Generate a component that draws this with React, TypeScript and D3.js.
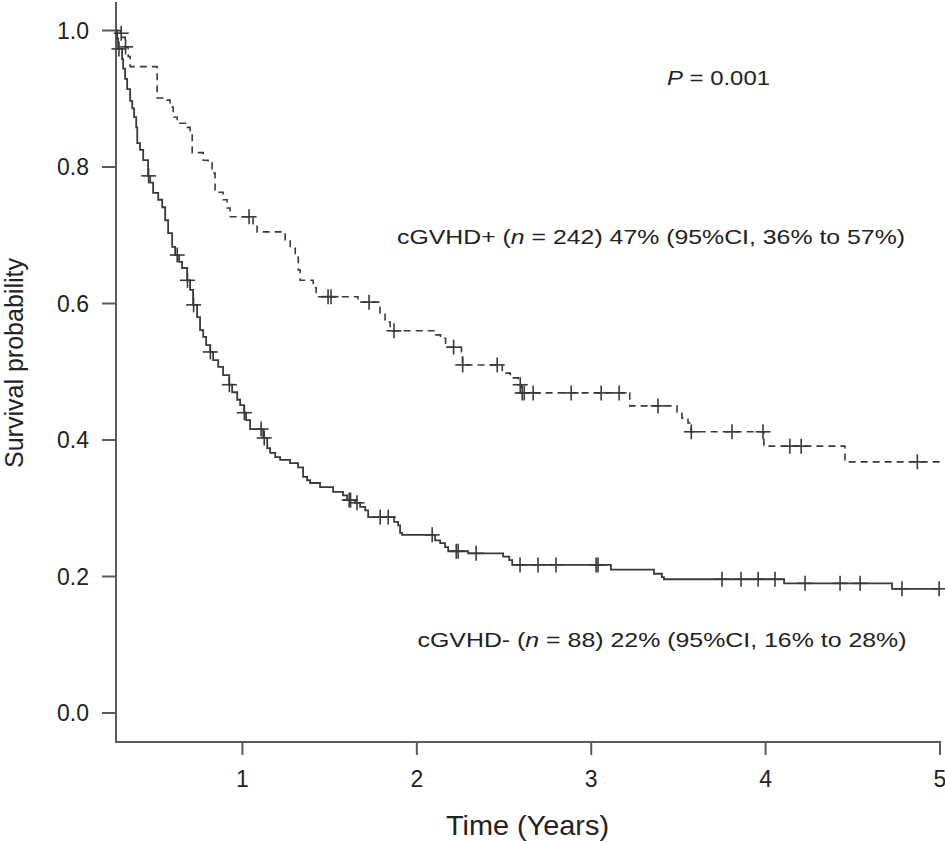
import React from "react";
import * as d3 from "d3";

// ---- data (time in years after landmark, survival probability after each drop) ----
const xTicks = [1, 2, 3, 4, 5];
const yTicks = [0, 0.2, 0.4, 0.6, 0.8, 1.0];
const startTime = 0.275;
const endTime = 5;

// cGVHD- (solid)
const negTimes = [0.282, 0.287, 0.31, 0.316, 0.327, 0.339, 0.356, 0.368, 0.379, 0.391, 0.397, 0.413, 0.431, 0.459, 0.471, 0.488, 0.517, 0.54, 0.557, 0.574, 0.597, 0.614, 0.637, 0.654, 0.683, 0.7, 0.717, 0.74, 0.757, 0.775, 0.792, 0.815, 0.832, 0.861, 0.889, 0.924, 0.941, 0.97, 0.987, 1.01, 1.021, 1.044, 1.119, 1.142, 1.159, 1.188, 1.216, 1.273, 1.319, 1.348, 1.371, 1.388, 1.445, 1.52, 1.577, 1.6, 1.646, 1.675, 1.704, 1.721, 1.87, 1.893, 1.904, 1.916, 2.105, 2.134, 2.162, 2.18, 2.294, 2.495, 2.53, 2.547, 3.113, 3.36, 3.405, 3.417, 4.106, 4.725];
const negSurv = [0.988, 0.973, 0.958, 0.944, 0.929, 0.914, 0.897, 0.886, 0.873, 0.858, 0.835, 0.825, 0.81, 0.787, 0.777, 0.762, 0.752, 0.741, 0.722, 0.703, 0.683, 0.671, 0.661, 0.652, 0.634, 0.62, 0.598, 0.58, 0.561, 0.551, 0.539, 0.529, 0.517, 0.507, 0.495, 0.481, 0.47, 0.459, 0.451, 0.44, 0.429, 0.416, 0.403, 0.388, 0.381, 0.375, 0.371, 0.366, 0.36, 0.346, 0.341, 0.337, 0.331, 0.324, 0.319, 0.312, 0.308, 0.302, 0.297, 0.287, 0.28, 0.275, 0.264, 0.261, 0.253, 0.249, 0.243, 0.237, 0.234, 0.229, 0.224, 0.217, 0.21, 0.204, 0.199, 0.196, 0.19, 0.182];
const negCensor = [0.292, 0.462, 0.626, 0.685, 0.72, 0.816, 0.925, 1.011, 1.107, 1.125, 1.612, 1.62, 1.657, 1.79, 1.836, 2.088, 2.226, 2.237, 2.34, 2.592, 2.695, 2.798, 3.028, 3.039, 3.75, 3.859, 3.957, 4.054, 4.226, 4.427, 4.542, 4.782, 4.995];

// cGVHD+ (dashed)
const posTimes = [0.3, 0.31, 0.328, 0.345, 0.356, 0.511, 0.568, 0.585, 0.603, 0.626, 0.683, 0.7, 0.712, 0.775, 0.803, 0.826, 0.843, 0.889, 0.912, 0.929, 1.061, 1.084, 1.245, 1.274, 1.303, 1.32, 1.331, 1.406, 1.423, 1.663, 1.789, 1.818, 1.847, 2.108, 2.136, 2.165, 2.256, 2.262, 2.49, 2.536, 2.582, 2.599, 3.221, 3.492, 3.52, 3.555, 3.572, 3.99, 4.455];
const posSurv = [0.996, 0.99, 0.976, 0.962, 0.947, 0.901, 0.898, 0.888, 0.873, 0.864, 0.858, 0.85, 0.821, 0.81, 0.806, 0.791, 0.763, 0.752, 0.74, 0.727, 0.715, 0.705, 0.693, 0.681, 0.668, 0.649, 0.634, 0.623, 0.61, 0.602, 0.586, 0.573, 0.56, 0.554, 0.549, 0.536, 0.529, 0.51, 0.498, 0.491, 0.481, 0.469, 0.45, 0.441, 0.432, 0.425, 0.412, 0.391, 0.368];
const posCensor = [0.305, 0.33, 1.038, 1.491, 1.508, 1.726, 1.869, 2.211, 2.263, 2.461, 2.593, 2.604, 2.616, 2.667, 2.885, 3.057, 3.16, 3.383, 3.574, 3.807, 3.985, 4.139, 4.204, 4.87];

const pText = "0.001";
const posLabel = { name: "cGVHD+", n: "242", rest: ") 47% (95%CI, 36% to 57%)" };
const negLabel = { name: "cGVHD-", n: "88", rest: ") 22% (95%CI, 16% to 28%)" };

const W = 945;
const H = 842;
const FONT = "'Liberation Sans', Arial, Helvetica, sans-serif";

function survAt(times: number[], surv: number[], t: number) {
  let s = 1;
  for (let i = 0; i < times.length; i++) {
    if (times[i] <= t) s = surv[i];
    else break;
  }
  return s;
}

export default function App() {
  const x = d3.scaleLinear().domain([startTime, endTime]).range([116, 940]);
  const y = d3.scaleLinear().domain([0, 1]).range([713, 30.5]);
  const line = d3
    .line<[number, number]>()
    .x((d) => x(d[0]))
    .y((d) => y(d[1]))
    .curve(d3.curveStepAfter);

  const mk = (times: number[], surv: number[]): [number, number][] => {
    const pts: [number, number][] = [[startTime, 1]];
    times.forEach((t, i) => pts.push([t, surv[i]]));
    pts.push([endTime, surv[surv.length - 1]]);
    return pts;
  };

  const negPath = line(mk(negTimes, negSurv)) || "";
  const posPath = line(mk(posTimes, posSurv)) || "";
  const col = "#3a3a3a";
  const axisCol = "#5a5a5a";
  const textCol = "#222";
  const cs = 7.5;

  const cross = (t: number, s: number, k: string) => (
    <g key={k} stroke={col} strokeWidth={1.6}>
      <line x1={x(t) - cs} x2={x(t) + cs} y1={y(s)} y2={y(s)} />
      <line x1={x(t)} x2={x(t)} y1={y(s) - cs} y2={y(s) + cs} />
    </g>
  );

  const axisY = 742;

  return (
    <svg
      width={W}
      height={H}
      style={{ position: "absolute", left: 0, top: 0, background: "#fff" }}
      fontFamily={FONT}
    >
      <rect width={W} height={H} fill="#fff" />
      {/* axes */}
      <line x1={116} x2={116} y1={2} y2={axisY} stroke={axisCol} strokeWidth={2} />
      <line x1={115} x2={941} y1={axisY} y2={axisY} stroke={axisCol} strokeWidth={2} />
      {yTicks.map((v) => (
        <g key={"y" + v}>
          <line x1={102} x2={116} y1={y(v)} y2={y(v)} stroke={axisCol} strokeWidth={2} />
          <text x={89} y={y(v) + 8} textAnchor="end" fontSize={23} fill={textCol}>
            {v.toFixed(1)}
          </text>
        </g>
      ))}
      {xTicks.map((v) => (
        <g key={"x" + v}>
          <line x1={x(v)} x2={x(v)} y1={axisY} y2={755} stroke={axisCol} strokeWidth={2} />
          <text x={x(v)} y={787} textAnchor="middle" fontSize={23} fill={textCol}>
            {v}
          </text>
        </g>
      ))}
      <text
        x={446}
        y={835}
        fontSize={28}
        fill={textCol}
        textLength={163}
        lengthAdjust="spacingAndGlyphs"
      >
        Time (Years)
      </text>
      <text
        transform="translate(23,363) rotate(-90)"
        textAnchor="middle"
        fontSize={25}
        fill={textCol}
        textLength={210}
        lengthAdjust="spacingAndGlyphs"
      >
        Survival probability
      </text>

      {/* curves */}
      <path d={posPath} fill="none" stroke={col} strokeWidth={1.6} strokeDasharray="7,5" />
      <path d={negPath} fill="none" stroke={col} strokeWidth={1.8} />
      {posCensor.map((t, i) => cross(t, survAt(posTimes, posSurv, t), "p" + i))}
      {negCensor.map((t, i) => cross(t, survAt(negTimes, negSurv, t), "n" + i))}

      {/* annotations */}
      <text
        x={667}
        y={85}
        fontSize={21}
        fill={textCol}
        textLength={103}
        lengthAdjust="spacingAndGlyphs"
      >
        <tspan fontStyle="italic">P</tspan> = {pText}
      </text>
      <text
        x={397}
        y={244}
        fontSize={21}
        fill={textCol}
        textLength={508}
        lengthAdjust="spacingAndGlyphs"
      >
        {posLabel.name} (<tspan fontStyle="italic">n</tspan> = {posLabel.n}
        {posLabel.rest}
      </text>
      <text
        x={417.5}
        y={647}
        fontSize={21}
        fill={textCol}
        textLength={489}
        lengthAdjust="spacingAndGlyphs"
      >
        {negLabel.name} (<tspan fontStyle="italic">n</tspan> = {negLabel.n}
        {negLabel.rest}
      </text>
    </svg>
  );
}
